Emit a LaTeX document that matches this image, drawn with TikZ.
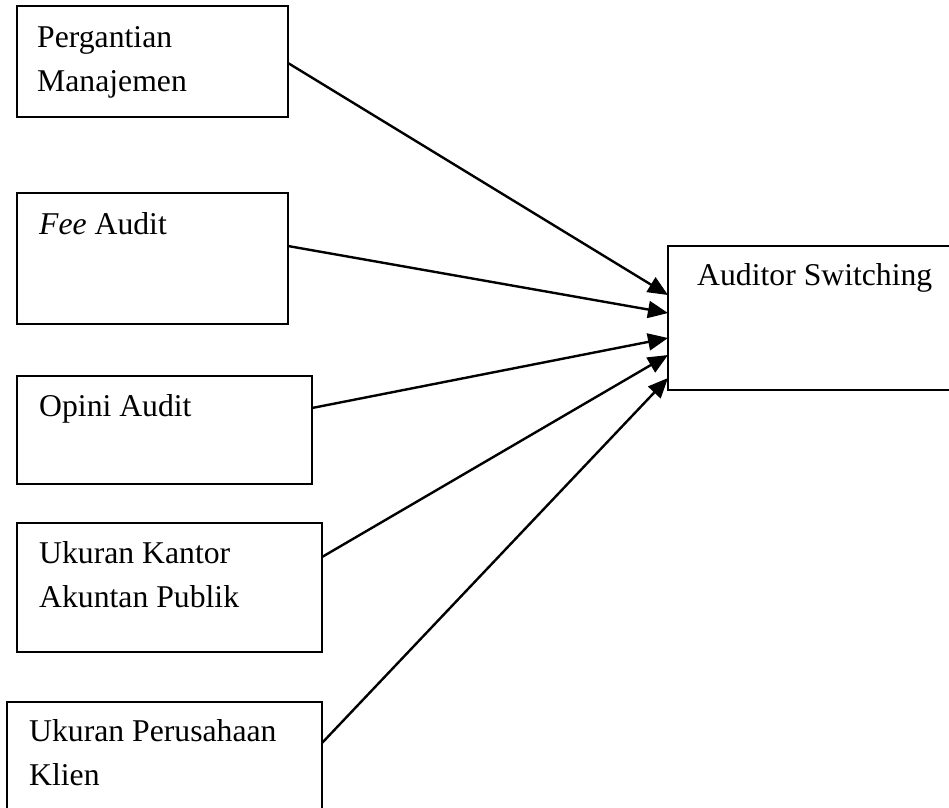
\documentclass[tikz,border=0pt]{standalone}
\usepackage{fontspec}
\setmainfont{Liberation Serif}
\usetikzlibrary{arrows.meta,calc}
\begin{document}
\begin{tikzpicture}[x=1pt,y=-1pt,
  box/.style={draw=black,line width=2.4pt,rectangle,inner sep=0pt,outer sep=0pt},
  lbl/.style={anchor=base west,inner sep=0pt,align=left,font=\fontsize{31.7}{44}\selectfont},
  conn/.style={line width=2.4pt,-{Triangle[length=20pt,width=17pt]}}]
\clip (0,0) rectangle (949,807);
\fill[white] (0,0) rectangle (949,807);
% boxes
\node[box,minimum width=271pt,minimum height=111pt] (b1) at (152.5,61.5) {};
\node[box,minimum width=271pt,minimum height=131pt] (b2) at (152.5,258.5) {};
\node[box,minimum width=295pt,minimum height=108pt] (b3) at (164.5,430) {};
\node[box,minimum width=305pt,minimum height=129pt] (b4) at (169.5,587.5) {};
\node[box,minimum width=315pt,minimum height=128pt] (b5) at (164.5,766) {};
\node[box,minimum width=312pt,minimum height=144pt] (t) at (824,318) {};
% labels (base = baseline of the last line)
\node[lbl] (l1) at (37,91) {Pergantian\\Manajemen};
\node[lbl] (l2) at (39,234) {\textit{Fee} Audit};
\node[lbl] (l3) at (39,416) {Opini Audit};
\node[lbl] (l4) at (39,607) {Ukuran Kantor\\Akuntan Publik};
\node[lbl] (l5) at (29,785) {Ukuran Perusahaan\\Klien};
\node[lbl] (lt) at (697,285) {Auditor Switching};
% connector ends
\coordinate (s1) at ($(b1.north east)+(0,57)$);
\coordinate (s2) at ($(b2.north east)+(0,53)$);
\coordinate (s3) at ($(b3.north east)+(0,32)$);
\coordinate (s4) at ($(b4.north east)+(0,34)$);
\coordinate (s5) at ($(b5.north east)+(0,41)$);
\coordinate (e1) at ($(t.north west)+(0,49)$);
\coordinate (e2) at ($(t.north west)+(0,67)$);
\coordinate (e3) at ($(t.north west)+(0,92)$);
\coordinate (e4) at ($(t.north west)+(0,109)$);
\coordinate (e5) at ($(t.north west)+(0,132)$);
\draw[conn] (s1) -- (e1);
\draw[conn] (s2) -- (e2);
\draw[conn] (s3) -- (e3);
\draw[conn] (s4) -- (e4);
\draw[conn] (s5) -- (e5);
\end{tikzpicture}
\end{document}
